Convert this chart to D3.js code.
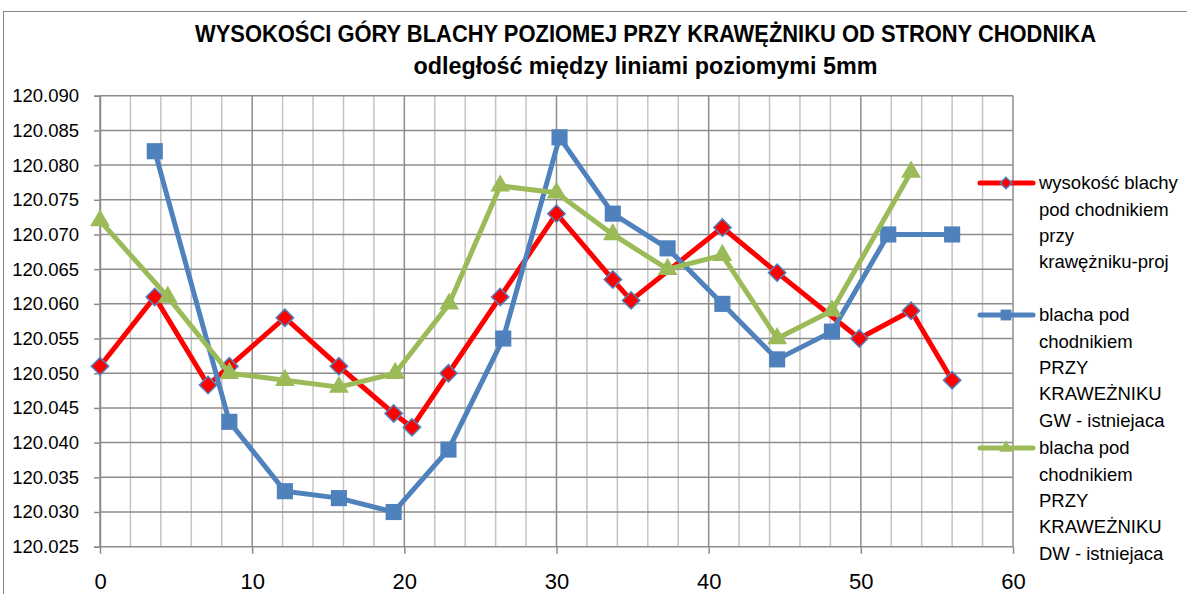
<!DOCTYPE html>
<html>
<head>
<meta charset="utf-8">
<script src="https://cdn.jsdelivr.net/npm/d3@7"></script>
<style>
  body { margin: 0; background: #fff; }
  text { font-family: "Liberation Sans", Arial, sans-serif; fill: #000; }
</style>
</head>
<body>
<div id="chart"></div>
<script>

var projX = [0, 3.6, 7.1, 8.5, 12.15, 15.7, 19.3, 20.5, 22.9, 26.3, 30.0, 33.7, 34.9, 40.9, 44.5, 49.9, 53.3, 56.0];
var projY = [120.051, 120.061, 120.0483, 120.051, 120.058, 120.051, 120.0442, 120.0422, 120.050, 120.061, 120.073, 120.0635, 120.0605, 120.071, 120.0645, 120.055, 120.059, 120.049];

var gwX = [3.6, 8.5, 12.15, 15.7, 19.3, 22.9, 26.5, 30.2, 33.7, 37.3, 40.9, 44.5, 48.1, 51.8, 56.0];
var gwY = [120.082, 120.043, 120.033, 120.032, 120.030, 120.039, 120.055, 120.084, 120.073, 120.068, 120.060, 120.052, 120.056, 120.070, 120.070];

var dwX = [0, 4.45, 8.5, 12.15, 15.7, 19.4, 22.95, 26.3, 30.0, 33.7, 37.3, 40.9, 44.5, 48.1, 53.3];
var dwY = [120.072, 120.061, 120.050, 120.049, 120.048, 120.050, 120.060, 120.077, 120.076, 120.070, 120.065, 120.067, 120.055, 120.059, 120.079];

var xTicks = [0, 10, 20, 30, 40, 50, 60];
var yTicks = [120.025, 120.030, 120.035, 120.040, 120.045, 120.050, 120.055, 120.060, 120.065, 120.070, 120.075, 120.080, 120.085, 120.090];

var titleLines = ["WYSOKOŚCI GÓRY BLACHY POZIOMEJ PRZY KRAWĘŻNIKU OD STRONY CHODNIKA", "odległość między liniami poziomymi 5mm"];
var legendProj = ["wysokość blachy", "pod chodnikiem", "przy", "krawężniku-proj"];
var legendGw = ["blacha pod", "chodnikiem", "PRZY", "KRAWEŻNIKU", "GW - istniejaca"];
var legendDw = ["blacha pod", "chodnikiem", "PRZY", "KRAWEŻNIKU", "DW - istniejaca"];

var width = 1187, height = 594;
var margin = { top: 95.7, right: 174, bottom: 47.3, left: 100 };
var plotW = width - margin.left - margin.right;
var plotH = height - margin.top - margin.bottom;

var x = d3.scaleLinear().domain([0, 60]).range([0, plotW]);
var y = d3.scaleLinear().domain([120.025, 120.090]).range([plotH, 0]);

var svg = d3.select("#chart").append("svg")
  .attr("width", width)
  .attr("height", height);

svg.append("rect")
  .attr("x", 3.5).attr("y", 11.5)
  .attr("width", 1300).attr("height", 700)
  .attr("fill", "#fff")
  .attr("stroke", "#888").attr("stroke-width", 1);

// title squeezed a little, the original font is narrower
var titleBase = [41.7, 73.5], titleLen = [901, 464], titleSize = [23, 23];
svg.selectAll(".title")
  .data(titleLines)
  .enter().append("text")
  .attr("class", "title")
  .attr("x", 645.5)
  .attr("y", function(d, i) { return titleBase[i]; })
  .attr("text-anchor", "middle")
  .attr("textLength", function(d, i) { return titleLen[i]; })
  .attr("lengthAdjust", "spacingAndGlyphs")
  .style("font-weight", "bold")
  .style("font-size", function(d, i) { return titleSize[i] + "px"; })
  .text(function(d) { return d; });

var g = svg.append("g")
  .attr("transform", "translate(" + margin.left + "," + margin.top + ")");

// minor vertical grid every 2
var minorX = d3.range(2, 60, 2).filter(function(v) { return v % 10 != 0; });
g.selectAll(".vminor")
  .data(minorX)
  .enter().append("line")
  .attr("x1", function(d) { return x(d); }).attr("x2", function(d) { return x(d); })
  .attr("y1", 0).attr("y2", plotH)
  .attr("stroke", "#c4c4c4").attr("stroke-width", 1.5);

g.selectAll(".hgrid")
  .data(yTicks)
  .enter().append("line")
  .attr("x1", 0).attr("x2", plotW)
  .attr("y1", function(d) { return y(d); }).attr("y2", function(d) { return y(d); })
  .attr("stroke", "#8c8c8c").attr("stroke-width", 1.5);

g.selectAll(".vmajor")
  .data(xTicks)
  .enter().append("line")
  .attr("x1", function(d) { return x(d); }).attr("x2", function(d) { return x(d); })
  .attr("y1", 0).attr("y2", plotH)
  .attr("stroke", "#8c8c8c").attr("stroke-width", 1.5);

var xAxis = d3.axisBottom(x).tickValues(xTicks).tickSize(7).tickPadding(20).tickFormat(d3.format("d"));
var yAxis = d3.axisLeft(y).tickValues(yTicks).tickSize(6).tickPadding(15).tickFormat(d3.format(".3f"));

var gx = g.append("g")
  .attr("transform", "translate(0," + plotH + ")")
  .call(xAxis);
gx.select(".domain").remove();
gx.selectAll("line").attr("stroke", "#8c8c8c").attr("stroke-width", 1.5);
gx.selectAll("text").style("font-size", "22px").style("font-family", "Liberation Sans");

var gy = g.append("g").call(yAxis);
gy.select(".domain").attr("stroke", "#8c8c8c").attr("stroke-width", 1.5);
gy.selectAll("line").attr("stroke", "#8c8c8c").attr("stroke-width", 1.5);
gy.selectAll("text").style("font-size", "18.5px").style("font-family", "Liberation Sans");

var series = [
  { xs: projX, ys: projY, color: "#ff0000", symbol: "diamond" },
  { xs: gwX, ys: gwY, color: "#4f81bd", symbol: "square" },
  { xs: dwX, ys: dwY, color: "#9bbb59", symbol: "triangle" }
];

var line = d3.line()
  .x(function(d) { return x(d[0]); })
  .y(function(d) { return y(d[1]); });

function markerPath(sym, scale) {
  if (sym == "diamond") return d3.symbol().type(d3.symbolSquare).size(150 * scale)();
  if (sym == "square") return d3.symbol().type(d3.symbolSquare).size(260 * scale)();
  return d3.symbol().type(d3.symbolTriangle).size(170 * scale)();
}

function drawMarker(sel, s, scale) {
  sel.append("path")
    .attr("d", markerPath(s.symbol, scale))
    .attr("transform", function(d) {
      return "translate(" + d[0] + "," + d[1] + ")" + (s.symbol == "diamond" ? " rotate(45)" : "");
    })
    .attr("fill", s.color)
    .attr("stroke", s.symbol == "diamond" ? "#4f81bd" : "none")
    .attr("stroke-width", 1.5);
}

series.forEach(function(s) {
  var pts = s.xs.map(function(v, i) { return [v, s.ys[i]]; });
  g.append("path")
    .datum(pts)
    .attr("d", line)
    .attr("fill", "none")
    .attr("stroke", s.color)
    .attr("stroke-width", 5)
    .attr("stroke-linejoin", "round");
  var mk = g.selectAll(null)
    .data(pts.map(function(p) { return [x(p[0]), y(p[1])]; }))
    .enter().append("g");
  drawMarker(mk, s, 1);
});

// legend
var legends = [
  { lines: legendProj, top: 183, s: series[0] },
  { lines: legendGw, top: 315, s: series[1] },
  { lines: legendDw, top: 448, s: series[2] }
];

legends.forEach(function(l) {
  svg.append("line")
    .attr("x1", 980).attr("x2", 1033)
    .attr("y1", l.top).attr("y2", l.top)
    .attr("stroke", l.s.color).attr("stroke-width", 5)
    .attr("stroke-linecap", "round");
  var mk = svg.append("g").datum([1006, l.top]);
  drawMarker(mk, l.s, 0.45);
  svg.selectAll(null)
    .data(l.lines)
    .enter().append("text")
    .attr("x", 1039)
    .attr("y", function(d, i) { return l.top + i * 26.3; })
    .attr("dy", "0.35em")
    .style("font-size", "18.5px")
    .text(function(d) { return d; });
});

</script>
</body>
</html>
